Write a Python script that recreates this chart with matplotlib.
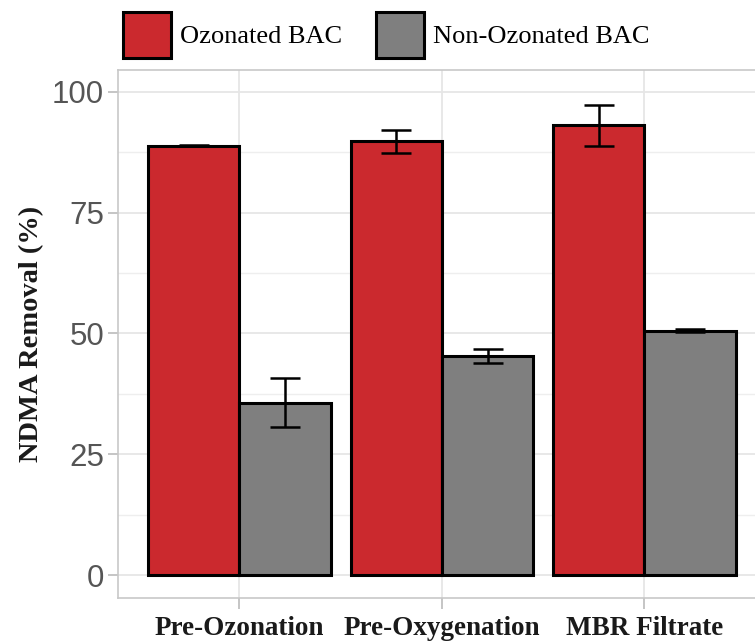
import numpy as np
import matplotlib.pyplot as plt
from matplotlib.patches import Patch

sites = ["Pre-Ozonation", "Pre-Oxygenation", "MBR Filtrate"]
ozonated = [88.9, 89.8, 93.1]
ozonated_err = [0.1, 2.35, 4.3]
non_ozonated = [35.7, 45.3, 50.6]
non_ozonated_err = [5.1, 1.5, 0.3]

red = "#CB292E"
grey = "#7F7F7F"
serif = ["Liberation Serif", "DejaVu Serif"]
sans = ["Liberation Sans", "DejaVu Sans"]

fig = plt.figure(figsize=(7.55, 6.44), dpi=100)
ax = fig.add_axes([118 / 755, 1 - 598 / 644, (766 - 118) / 755, (598 - 70) / 644])

x = np.arange(1, len(sites) + 1)
w = 0.45
ax.bar(x - w / 2, ozonated, w, color=red, edgecolor="black", linewidth=2.2, zorder=3)
ax.bar(x + w / 2, non_ozonated, w, color=grey, edgecolor="black", linewidth=2.2, zorder=3)
ax.errorbar(x - w / 2, ozonated, yerr=ozonated_err, fmt="none", ecolor="black",
            elinewidth=1.8, capsize=11, capthick=1.8, zorder=4)
ax.errorbar(x + w / 2, non_ozonated, yerr=non_ozonated_err, fmt="none", ecolor="black",
            elinewidth=1.8, capsize=11, capthick=1.8, zorder=4)

ax.set_xlim(0.4, 3.6)
ax.set_ylim(-4.76, 104.55)
ax.set_yticks([0, 25, 50, 75, 100])
ax.set_yticks([12.5, 37.5, 62.5, 87.5], minor=True)
ax.set_xticks(x)
ax.set_xticklabels(sites, fontfamily=serif, fontweight="bold", fontsize=19.5, color="#1A1A1A")
for lab in ax.get_yticklabels():
    lab.set_fontfamily(sans)
ax.tick_params(axis="y", labelsize=22.5, labelcolor="#555555", color="#BBBBBB", length=7, width=1.2, pad=3)
ax.tick_params(axis="x", color="#BBBBBB", length=8, width=1.2, pad=5)
ax.tick_params(axis="y", which="minor", length=0)
ax.grid(True, which="major", color="#E6E6E6", linewidth=1.3, zorder=0)
ax.grid(True, which="minor", axis="y", color="#EEEEEE", linewidth=1.0, zorder=0)
ax.set_axisbelow(True)
for s in ax.spines.values():
    s.set_color("#C8C8C8")
    s.set_linewidth(1.2)

ax.set_ylabel("NDMA Removal (%)", fontfamily=serif, fontweight="bold", fontsize=20.5,
              color="#1A1A1A", labelpad=6)

handles = [Patch(facecolor=red, edgecolor="black", linewidth=2.2, label="Ozonated BAC"),
           Patch(facecolor=grey, edgecolor="black", linewidth=2.2, label="Non-Ozonated BAC")]
fig.legend(handles=handles, loc="upper left", bbox_to_anchor=(0.135, 1.014), ncol=2, frameon=False,
           prop={"family": serif, "size": 19}, handlelength=1.8, handleheight=2.3,
           handletextpad=0.35, columnspacing=1.3, borderpad=0.3)

fig.savefig("out.png", dpi=100)
